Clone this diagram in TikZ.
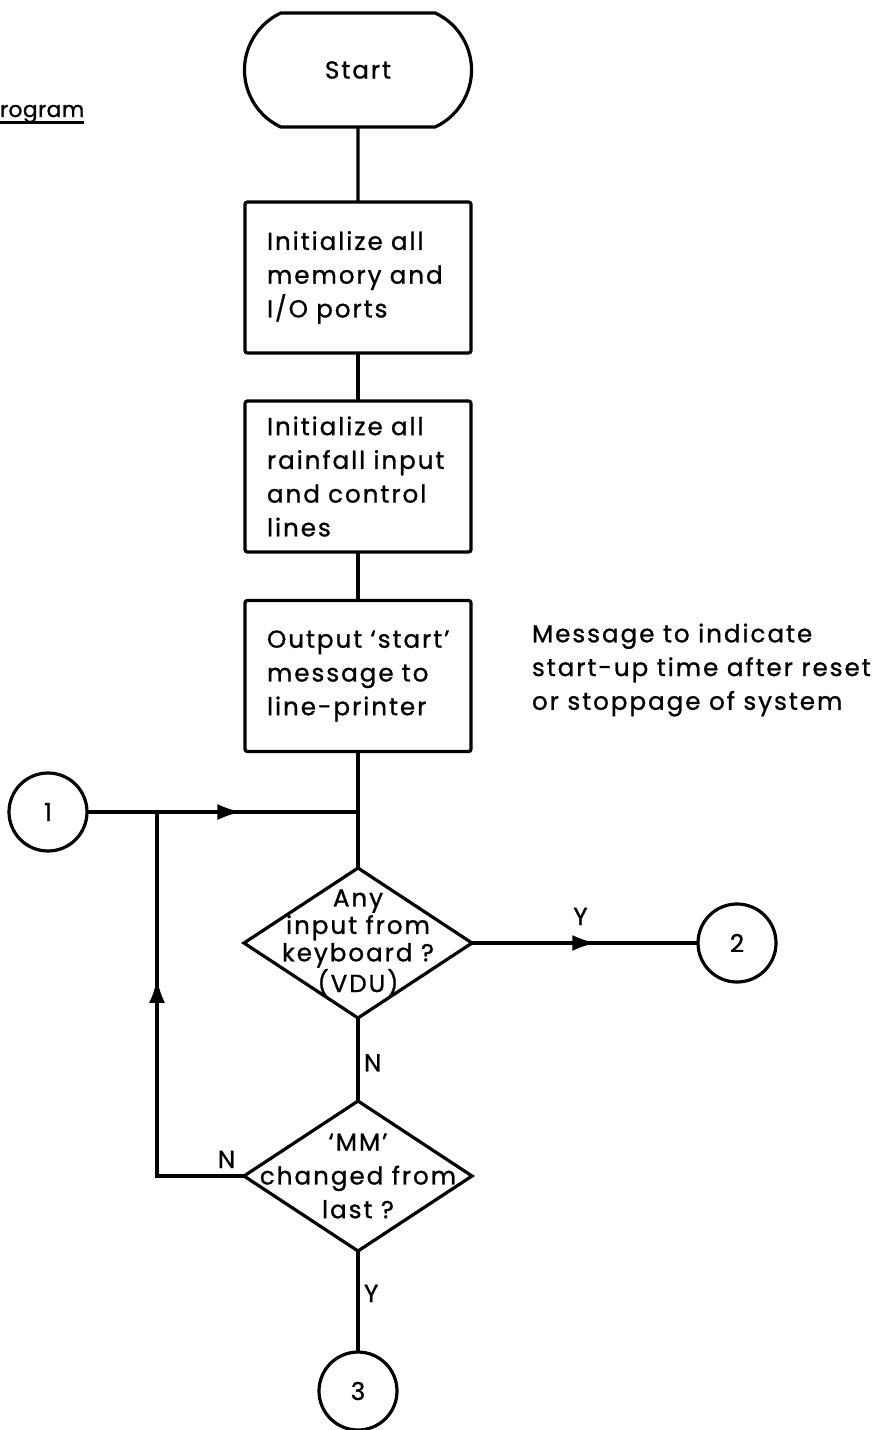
\documentclass[tikz,border=0pt]{standalone}
\usepackage{fontspec}
\setmainfont{Poppins}[LetterSpace=8,FakeBold=1]
\usetikzlibrary{shapes.geometric,shapes.misc,arrows.meta,decorations.markings}
\newcommand\flowfont{\fontsize{17.5}{24}\selectfont}
\tikzset{%
  >={Latex[length=6mm,width=4mm]}, % filled arrow heads
  inner sep=0pt,%
  outer sep=0pt,%
  start box/.style={draw,rounded rectangle,rounded rectangle arc length=130,
    minimum width=56.75mm,minimum height=28.5mm},%
  process box/.style={draw,rectangle,rounded corners=0.6mm,align=left,
    text width=45.5mm,inner xsep=5.5mm,minimum height=37.75mm},%
  decision box/.style={draw,diamond,minimum width=57mm,minimum height=37.5mm},%
  link circle/.style={draw,circle,minimum size=19.5mm},%
  arrow mark/.style={postaction={decorate},
    decoration={markings,mark=at position #1 with {\arrow{>}}}}%
}
\begin{document}
\begin{tikzpicture}[x=0.25mm,y=-0.25mm,line width=0.8mm,font=\flowfont] % rainfall logger flowchart
\useasboundingbox (0,0) rectangle (882,1430);

% cut off heading
\node[anchor=base west,font=\fontsize{15.5}{24}\selectfont\addfontfeatures{LetterSpace=2}] (title) at (0,117) {rogram};
\draw (title.south west) -- (title.south east);

% main column
\node[start box] (start) at (358,70) {Start};
\node[process box] (init) at (358,277.5) {Initialize all\\memory and\\I/O ports};
\node[process box] (rain) at (358,476.5) {Initialize all\\rainfall input\\and control\\lines};
\node[process box] (msg) at (358,676) {Output `start'\\message to\\line-printer};
\node[anchor=west,align=left] (note) at (532,670) {Message to indicate\\start-up time after reset\\or stoppage of system};
\node[decision box,label={[align=center,font=\fontsize{17.5}{19.5}\selectfont]center:{Any\\input from\\keyboard ?\\(VDU)}}] (kbd) at (358,943) {};
\node[decision box,label={[align=center]center:{`MM'\\changed from\\last ?}}] (mm) at (358,1176) {};

% off page links
\node[link circle] (one) at (48,812) {1};
\node[link circle] (two) at (737,943) {2};
\node[link circle] (three) at (358,1391) {3};
\coordinate (loop) at (157,812);

\draw (start) -- (init);
\draw (init) -- (rain);
\draw (rain) -- (msg);
\draw (msg) -- (kbd);
\draw[arrow mark=0.57] (one) -- (one -| kbd);
\draw[arrow mark=0.55] (kbd) -- node[above=4.5mm,pos=0.48] {Y} (two);
\draw (kbd) -- node[right=1.5mm,pos=0.54] {N} (mm);
\draw (mm) -- node[right=1.5mm,pos=0.42] {Y} (three);
\draw[arrow mark=0.63] (mm.west) -- node[above=2mm,pos=0.2] {N} (mm.west -| loop) -- (loop);

\end{tikzpicture}
\end{document}
